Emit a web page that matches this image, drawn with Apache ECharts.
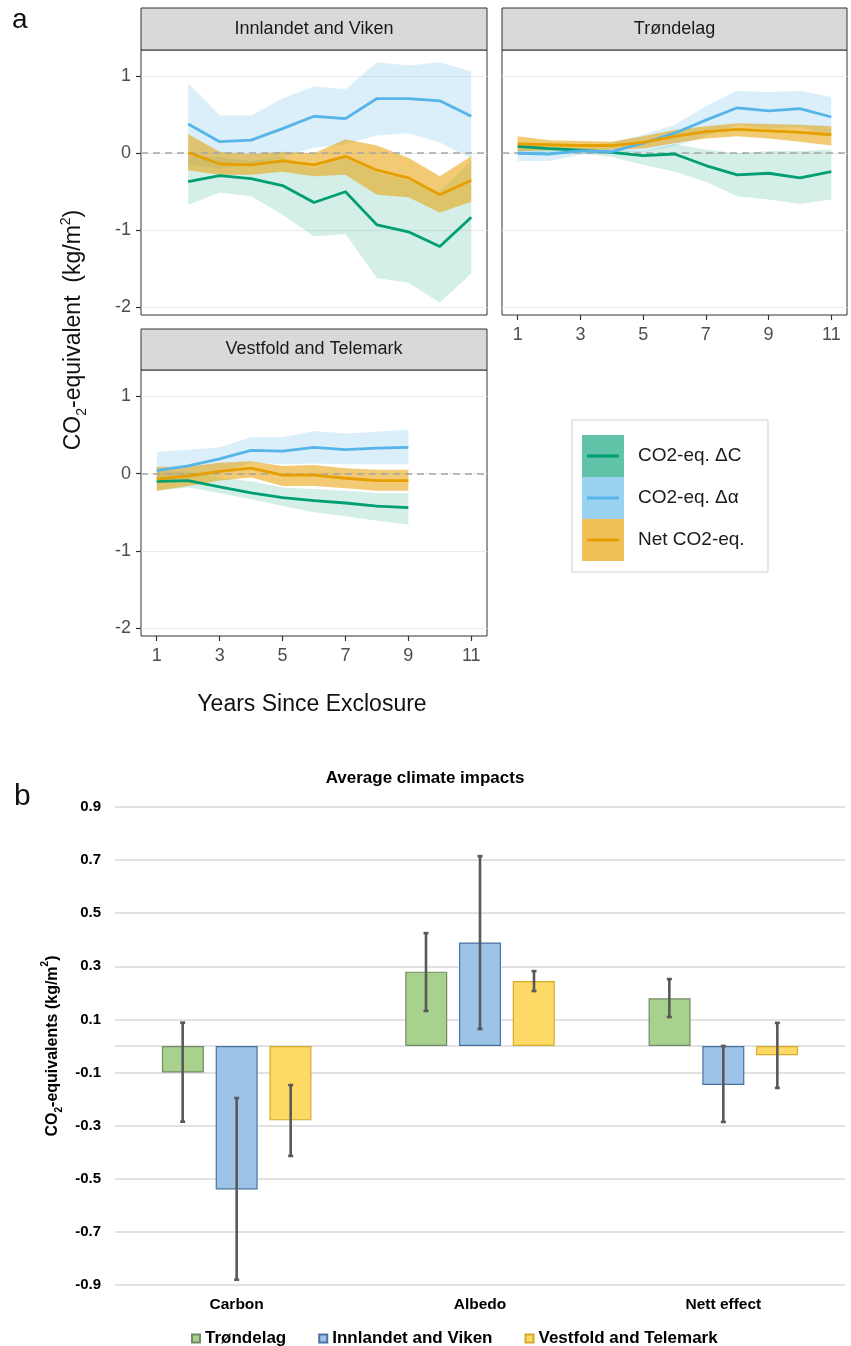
<!DOCTYPE html>
<html>
<head>
<meta charset="utf-8">
<script src="https://cdn.jsdelivr.net/npm/echarts@6/dist/echarts.min.js"></script>
<style>
  html, body { margin: 0; padding: 0; background: #fff; }
  #chart { width: 851px; height: 1346px; }
</style>
</head>
<body>
<div id="chart"></div>
<script>
// ---- panel a : CO2-eq over years since exclosure ----
// Innlandet and Viken (years 2..11)
const invYears = [2, 3, 4, 5, 6, 7, 8, 9, 10, 11];
const invC   = [-0.37, -0.29, -0.33, -0.42, -0.64, -0.50, -0.93, -1.02, -1.21, -0.83];
const invCLo = [-0.67, -0.51, -0.56, -0.80, -1.08, -1.05, -1.62, -1.68, -1.94, -1.56];
const invCHi = [-0.05, -0.05, -0.10, -0.05, -0.20, -0.02, -0.25, -0.35, -0.50, -0.10];
const invA   = [0.38, 0.15, 0.17, 0.32, 0.48, 0.45, 0.71, 0.71, 0.68, 0.48];
const invALo = [-0.15, -0.20, -0.15, -0.05, 0.07, 0.12, 0.23, 0.26, 0.14, -0.07];
const invAHi = [0.91, 0.49, 0.49, 0.71, 0.87, 0.83, 1.18, 1.14, 1.18, 1.06];
const invN   = [0.01, -0.14, -0.15, -0.10, -0.15, -0.04, -0.22, -0.32, -0.54, -0.35];
const invNLo = [-0.22, -0.28, -0.28, -0.24, -0.30, -0.28, -0.54, -0.57, -0.77, -0.63];
const invNHi = [0.25, 0.02, -0.01, 0.02, 0.00, 0.18, 0.10, -0.06, -0.30, -0.04];

// Trøndelag (years 1..11)
const trYears = [1, 2, 3, 4, 5, 6, 7, 8, 9, 10, 11];
const trC   = [0.09, 0.06, 0.04, 0.01, -0.03, -0.01, -0.16, -0.28, -0.26, -0.32, -0.24];
const trCLo = [-0.02, 0.00, 0.00, -0.05, -0.15, -0.24, -0.37, -0.56, -0.60, -0.66, -0.60];
const trCHi = [0.13, 0.10, 0.07, 0.05, 0.03, 0.12, 0.05, 0.00, 0.03, 0.03, 0.05];
const trA   = [0.00, -0.01, 0.03, 0.02, 0.13, 0.26, 0.43, 0.59, 0.55, 0.58, 0.47];
const trALo = [-0.10, -0.10, -0.02, 0.00, 0.02, 0.09, 0.22, 0.37, 0.32, 0.34, 0.22];
const trAHi = [0.06, 0.06, 0.06, 0.14, 0.24, 0.37, 0.61, 0.81, 0.79, 0.81, 0.73];
const trN   = [0.12, 0.11, 0.10, 0.10, 0.14, 0.22, 0.28, 0.31, 0.29, 0.27, 0.24];
const trNLo = [0.03, 0.04, 0.04, 0.05, 0.06, 0.13, 0.19, 0.22, 0.19, 0.15, 0.10];
const trNHi = [0.22, 0.17, 0.16, 0.15, 0.22, 0.30, 0.35, 0.39, 0.38, 0.37, 0.35];

// Vestfold and Telemark (years 1..9)
const veYears = [1, 2, 3, 4, 5, 6, 7, 8, 9];
const veC   = [-0.10, -0.09, -0.17, -0.25, -0.31, -0.35, -0.38, -0.42, -0.44];
const veCLo = [-0.22, -0.18, -0.25, -0.33, -0.42, -0.50, -0.55, -0.61, -0.66];
const veCHi = [0.03, 0.03, -0.05, -0.10, -0.18, -0.20, -0.22, -0.25, -0.25];
const veA   = [0.04, 0.10, 0.19, 0.30, 0.29, 0.34, 0.31, 0.33, 0.34];
const veALo = [-0.12, -0.07, 0.00, 0.14, 0.12, 0.13, 0.12, 0.12, 0.12];
const veAHi = [0.28, 0.31, 0.34, 0.47, 0.47, 0.55, 0.52, 0.54, 0.57];
const veN   = [-0.07, -0.03, 0.03, 0.07, -0.02, -0.02, -0.06, -0.09, -0.09];
const veNLo = [-0.22, -0.16, -0.09, -0.05, -0.16, -0.16, -0.19, -0.22, -0.22];
const veNHi = [0.09, 0.09, 0.14, 0.16, 0.10, 0.11, 0.07, 0.05, 0.05];

const panelNames = ["Innlandet and Viken", "Trøndelag", "Vestfold and Telemark"];
const xTicks = [1, 3, 5, 7, 9, 11];
const yTicks = [-2, -1, 0, 1];
const legendLabels = ["CO2-eq. \u0394C", "CO2-eq. \u0394\u03b1", "Net CO2-eq."];

// ---- panel b : average climate impacts ----
const categories = ["Carbon", "Albedo", "Nett effect"];
const barNames = ["Trøndelag", "Innlandet and Viken", "Vestfold and Telemark"];
const trondelag = [-0.10, 0.28, 0.18];
const trondelagLo = [-0.285, 0.132, 0.109];
const trondelagHi = [0.088, 0.425, 0.252];
const innlandet = [-0.54, 0.39, -0.147];
const innlandetLo = [-0.88, 0.064, -0.286];
const innlandetHi = [-0.196, 0.715, 0.0];
const vestfold = [-0.28, 0.245, -0.035];
const vestfoldLo = [-0.414, 0.207, -0.158];
const vestfoldHi = [-0.147, 0.282, 0.087];

const FONT = "Liberation Sans, Arial, Helvetica, sans-serif";
const GREEN = "#009E73", BLUE = "#56B4E9", ORANGE = "#E69F00";

const chart = echarts.init(document.getElementById("chart"), null, { renderer: "canvas" });

// band between lo and hi, drawn as one polygon through the axis scales
function band(gi, yrs, lo, hi, fill) {
  return {
    type: "custom", xAxisIndex: gi, yAxisIndex: gi, z: 1, silent: true,
    data: yrs.map((x, i) => [x, lo[i], hi[i]]),
    encode: { x: 0, y: [1, 2] },
    renderItem: function (params, api) {
      if (params.dataIndexInside !== 0) return null;
      const top = yrs.map((x, i) => api.coord([x, hi[i]]));
      const bot = yrs.map((x, i) => api.coord([x, lo[i]])).reverse();
      return { type: "polygon", shape: { points: top.concat(bot) }, style: { fill: fill } };
    }
  };
}

function line(gi, yrs, vals, color, withZero) {
  const s = {
    type: "line", xAxisIndex: gi, yAxisIndex: gi, z: 4, silent: true,
    symbol: "none", animation: false,
    data: yrs.map((x, i) => [x, vals[i]]),
    lineStyle: { color: color, width: 2.8 }
  };
  if (withZero) {
    s.markLine = {
      silent: true, symbol: "none", label: { show: false }, z: 3,
      lineStyle: { color: "#A6A6A6", type: [7, 5], width: 1.6 },
      data: [{ yAxis: 0 }]
    };
  }
  return s;
}

function panel(gi, yrs, C, CLo, CHi, A, ALo, AHi, N, NLo, NHi) {
  return [
    band(gi, yrs, CLo, CHi, "rgba(0,158,115,0.17)"),
    band(gi, yrs, ALo, AHi, "rgba(86,180,233,0.22)"),
    band(gi, yrs, NLo, NHi, "rgba(230,159,0,0.55)"),
    line(gi, yrs, C, GREEN, true),
    line(gi, yrs, A, BLUE, false),
    line(gi, yrs, N, ORANGE, false)
  ];
}

const grids = [
  { left: 141, top: 50, width: 346, height: 265 },
  { left: 502, top: 50, width: 345, height: 265 },
  { left: 141, top: 370, width: 346, height: 266 }
];

const xAxes = [], yAxes = [];
grids.forEach((g, gi) => {
  xAxes.push({
    gridIndex: gi, type: "value", min: 0.5, max: 11.5, position: "bottom",
    axisLine: { show: false, onZero: false },
    axisTick: { show: gi !== 0, length: 5, customValues: xTicks, lineStyle: { color: "#333", width: 1.2 } },
    axisLabel: { show: gi !== 0, customValues: xTicks, color: "#4D4D4D", fontSize: 18, margin: 11, fontFamily: FONT },
    splitLine: { show: false }
  });
  yAxes.push({
    gridIndex: gi, type: "value", min: -2.1, max: 1.34, position: "left",
    axisLine: { show: false, onZero: false },
    axisTick: { show: gi !== 1, length: 5, customValues: yTicks, lineStyle: { color: "#333", width: 1.2 } },
    axisLabel: { show: gi !== 1, customValues: yTicks, color: "#4D4D4D", fontSize: 18, margin: 10, fontFamily: FONT },
    splitLine: { show: true, lineStyle: { color: "#EBEBEB", width: 1.2 } }
  });
});

// bar chart axes
const barGrid = { left: 115, top: 807, width: 730, height: 478 };
xAxes.push({
  gridIndex: 3, type: "category", data: categories,
  axisLine: { show: false, onZero: false }, axisTick: { show: false },
  axisLabel: { color: "#000", fontSize: 15.5, fontWeight: "bold", margin: 12, fontFamily: FONT }
});
const splitColors = [];
for (let k = -9; k <= 9; k++) splitColors.push((k % 2 !== 0 || k === 0) ? "#D9D9D9" : "rgba(0,0,0,0)");
yAxes.push({
  gridIndex: 3, type: "value", min: -0.9, max: 0.9, interval: 0.1,
  axisLine: { show: false }, axisTick: { show: false },
  axisLabel: {
    color: "#000", fontSize: 15, fontWeight: "bold", margin: 14, fontFamily: FONT,
    formatter: function (v) { return Math.abs(Math.round(v * 10)) % 2 === 1 ? v.toFixed(1) : ""; }
  },
  splitLine: { show: true, lineStyle: { color: splitColors, width: 1.5 } },
  name: "{a|CO}{s|2}{a|-equivalents (kg/m}{p|2}{a|)}",
  nameLocation: "middle", nameGap: 46, nameRotate: 90,
  nameTextStyle: {
    rich: {
      a: { fontSize: 16, fontWeight: "bold", fontFamily: FONT, color: "#000", lineHeight: 24 },
      s: { fontSize: 10, fontWeight: "bold", fontFamily: FONT, color: "#000", lineHeight: 14, verticalAlign: "bottom" },
      p: { fontSize: 10, fontWeight: "bold", fontFamily: FONT, color: "#000", lineHeight: 14, verticalAlign: "top" }
    }
  }
});

function bars(name, vals, color, border) {
  return {
    name: name, type: "bar", xAxisIndex: 3, yAxisIndex: 3, z: 2,
    data: vals, barWidth: 42, barGap: "28%",
    itemStyle: { color: color, borderColor: border, borderWidth: 1.2 }
  };
}

function errBars(k, lo, hi) {
  return {
    type: "custom", xAxisIndex: 3, yAxisIndex: 3, z: 5, silent: true,
    data: categories.map((c, i) => [i, lo[i], hi[i]]),
    encode: { x: 0, y: [1, 2] },
    renderItem: function (params, api) {
      const a = api.coord([api.value(0), api.value(1)]);
      const b = api.coord([api.value(0), api.value(2)]);
      const x = a[0] + (k - 1) * 54;
      const st = { stroke: "#595959", lineWidth: 2.6 };
      return {
        type: "group", children: [
          { type: "line", shape: { x1: x, y1: a[1], x2: x, y2: b[1] }, style: st },
          { type: "line", shape: { x1: x - 2.5, y1: a[1], x2: x + 2.5, y2: a[1] }, style: st },
          { type: "line", shape: { x1: x - 2.5, y1: b[1], x2: x + 2.5, y2: b[1] }, style: st }
        ]
      };
    }
  };
}

// decorations: strips, labels, legend of panel a
const graphics = [];
const strips = [[141, 8, 346, 42], [502, 8, 345, 42], [141, 329, 346, 41]];
strips.forEach((s, i) => {
  graphics.push({ type: "rect", shape: { x: s[0], y: s[1], width: s[2], height: s[3] },
    style: { fill: "#D9D9D9", stroke: "#333", lineWidth: 1 } });
  graphics.push({ type: "text", x: s[0] + s[2] / 2, y: s[1] + s[3] / 2,
    style: { text: panelNames[i], fill: "#1A1A1A", font: "18px " + FONT, align: "center", verticalAlign: "middle" } });
});
graphics.push({ type: "text", x: 12, y: 6, style: { text: "a", fill: "#111", font: "28px " + FONT } });
graphics.push({ type: "text", x: 14, y: 782, style: { text: "b", fill: "#111", font: "30px " + FONT } });
graphics.push({
  type: "text", x: 74, y: 330, rotation: Math.PI / 2,
  style: {
    text: "{a|CO}{s|2}{a|-equivalent  (kg/m}{p|2}{a|)}", align: "center", verticalAlign: "middle",
    rich: {
      a: { fontSize: 23, fontFamily: FONT, fill: "#111", lineHeight: 30 },
      s: { fontSize: 14, fontFamily: FONT, fill: "#111", lineHeight: 18, verticalAlign: "bottom" },
      p: { fontSize: 14, fontFamily: FONT, fill: "#111", lineHeight: 18, verticalAlign: "top" }
    }
  }
});
graphics.push({ type: "text", x: 312, y: 705,
  style: { text: "Years Since Exclosure", fill: "#111", font: "23px " + FONT, align: "center", verticalAlign: "middle" } });
graphics.push({ type: "text", x: 425, y: 778,
  style: { text: "Average climate impacts", fill: "#000", font: "bold 17px " + FONT, align: "center", verticalAlign: "middle" } });

graphics.push({ type: "rect", shape: { x: 572, y: 420, width: 196, height: 152 },
  style: { fill: "#fff", stroke: "#D0D0D0", lineWidth: 1 } });
const keyFill = ["rgba(0,158,115,0.62)", "rgba(86,180,233,0.6)", "rgba(230,159,0,0.66)"];
const keyLine = [GREEN, BLUE, ORANGE];
legendLabels.forEach((t, i) => {
  const y0 = 435 + i * 42;
  graphics.push({ type: "rect", shape: { x: 582, y: y0, width: 42, height: 42 }, style: { fill: keyFill[i] } });
  graphics.push({ type: "line", shape: { x1: 587, y1: y0 + 21, x2: 619, y2: y0 + 21 }, style: { stroke: keyLine[i], lineWidth: 3 } });
  graphics.push({ type: "text", x: 638, y: y0 + 21,
    style: { text: t, fill: "#1A1A1A", font: "19px " + FONT, verticalAlign: "middle" } });
});

const option = {
  animation: false,
  backgroundColor: "#fff",
  grid: grids.map(g => Object.assign({ show: true, borderColor: "#333", borderWidth: 1, backgroundColor: "transparent" }, g))
    .concat([barGrid]),
  xAxis: xAxes,
  yAxis: yAxes,
  legend: {
    data: barNames, left: 186, top: 1325, icon: "rect", itemWidth: 8, itemHeight: 8, itemGap: 32,
    textStyle: { color: "#000", fontSize: 17, fontWeight: "bold", fontFamily: FONT }
  },
  graphic: graphics,
  series: [].concat(
    panel(0, invYears, invC, invCLo, invCHi, invA, invALo, invAHi, invN, invNLo, invNHi),
    panel(1, trYears, trC, trCLo, trCHi, trA, trALo, trAHi, trN, trNLo, trNHi),
    panel(2, veYears, veC, veCLo, veCHi, veA, veALo, veAHi, veN, veNLo, veNHi),
    [
      bars(barNames[0], trondelag, "#A9D18E", "#748A68"),
      bars(barNames[1], innlandet, "#9DC3E6", "#4A74A0"),
      bars(barNames[2], vestfold, "#FFD966", "#D4AC2B"),
      errBars(0, trondelagLo, trondelagHi),
      errBars(1, innlandetLo, innlandetHi),
      errBars(2, vestfoldLo, vestfoldHi)
    ]
  )
};

chart.setOption(option);
window.addEventListener("resize", () => { chart.resize(); });
</script>
</body>
</html>
